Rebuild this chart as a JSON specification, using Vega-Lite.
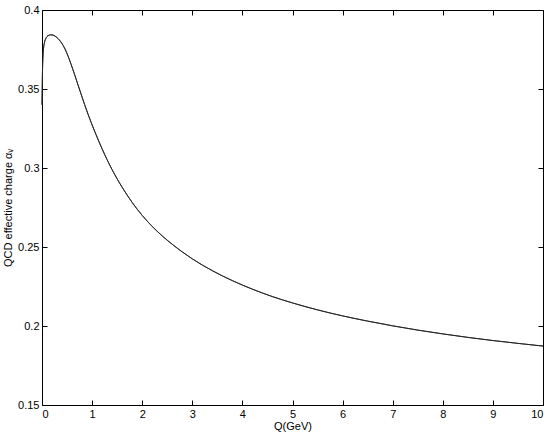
{
  "$schema": "https://vega.github.io/schema/vega-lite/v6.json",
  "autosize": {"type": "none"},
  "padding": {"left": 42, "top": 10, "right": 11, "bottom": 30},
  "width": 501,
  "height": 395,
  "background": "white",
  "config": {
    "view": {"stroke": "black", "strokeWidth": 1},
    "axis": {
      "domain": false,
      "grid": false,
      "tickColor": "black",
      "tickSize": -5,
      "labelFont": "Liberation Sans",
      "labelFontSize": 11,
      "labelColor": "black",
      "titleFont": "Liberation Sans",
      "titleFontSize": 11,
      "titleFontWeight": "normal",
      "titleColor": "black"
    }
  },
  "data": {
    "values": [
      {"Q": 0, "alpha": 0.340},
      {"Q": 0.01, "alpha": 0.362},
      {"Q": 0.02, "alpha": 0.371},
      {"Q": 0.03, "alpha": 0.3755},
      {"Q": 0.05, "alpha": 0.3795},
      {"Q": 0.08, "alpha": 0.3822},
      {"Q": 0.12, "alpha": 0.3837},
      {"Q": 0.17, "alpha": 0.3843},
      {"Q": 0.22, "alpha": 0.3841},
      {"Q": 0.3, "alpha": 0.3825},
      {"Q": 0.39, "alpha": 0.3792},
      {"Q": 0.46, "alpha": 0.3753},
      {"Q": 0.52, "alpha": 0.3708},
      {"Q": 0.58, "alpha": 0.3657},
      {"Q": 0.65, "alpha": 0.3592},
      {"Q": 0.72, "alpha": 0.3525},
      {"Q": 0.786, "alpha": 0.3462},
      {"Q": 0.85, "alpha": 0.3402},
      {"Q": 0.918, "alpha": 0.3341},
      {"Q": 0.98, "alpha": 0.3289},
      {"Q": 1.05, "alpha": 0.3233},
      {"Q": 1.1, "alpha": 0.3195},
      {"Q": 1.2, "alpha": 0.3121},
      {"Q": 1.3, "alpha": 0.3052},
      {"Q": 1.4, "alpha": 0.2989},
      {"Q": 1.5, "alpha": 0.2931},
      {"Q": 1.6, "alpha": 0.2878},
      {"Q": 1.8, "alpha": 0.2782},
      {"Q": 2.0, "alpha": 0.2700},
      {"Q": 2.2, "alpha": 0.2630},
      {"Q": 2.4, "alpha": 0.2570},
      {"Q": 2.6, "alpha": 0.2517},
      {"Q": 2.8, "alpha": 0.2469},
      {"Q": 3.0, "alpha": 0.2425},
      {"Q": 3.4, "alpha": 0.2350},
      {"Q": 3.8, "alpha": 0.2287},
      {"Q": 4.2, "alpha": 0.2233},
      {"Q": 4.6, "alpha": 0.2186},
      {"Q": 5.0, "alpha": 0.2146},
      {"Q": 5.5, "alpha": 0.2102},
      {"Q": 6.0, "alpha": 0.2064},
      {"Q": 6.5, "alpha": 0.2031},
      {"Q": 7.0, "alpha": 0.2001},
      {"Q": 7.5, "alpha": 0.1974},
      {"Q": 8.0, "alpha": 0.1950},
      {"Q": 8.5, "alpha": 0.1928},
      {"Q": 9.0, "alpha": 0.1908},
      {"Q": 9.5, "alpha": 0.1890},
      {"Q": 10, "alpha": 0.1873}
    ]
  },
  "layer": [
    {
      "mark": {"type": "line", "color": "#222222", "strokeWidth": 0.9, "interpolate": "monotone"},
      "encoding": {
        "x": {
          "field": "Q", "type": "quantitative",
          "scale": {"domain": [0, 10], "nice": false},
          "axis": {"values": [0,1,2,3,4,5,6,7,8,9,10], "format": "d", "title": "Q(GeV)", "labelPadding": 8, "titlePadding": 1}
        },
        "y": {
          "field": "alpha", "type": "quantitative",
          "scale": {"domain": [0.15, 0.4], "nice": false, "zero": false},
          "axis": {"values": [0.15, 0.2, 0.25, 0.3, 0.35, 0.4], "format": "~g", "title": "QCD effective charge αᵥ", "labelPadding": 8, "titlePadding": 4}
        }
      }
    },
    {
      "mark": {"type": "line", "color": "#222222", "strokeWidth": 0.9, "interpolate": "monotone"},
      "encoding": {
        "x": {
          "field": "Q", "type": "quantitative",
          "scale": {"domain": [0, 10], "nice": false},
          "axis": {"orient": "top", "values": [0,1,2,3,4,5,6,7,8,9,10], "labels": false, "title": null}
        },
        "y": {
          "field": "alpha", "type": "quantitative",
          "scale": {"domain": [0.15, 0.4], "nice": false, "zero": false},
          "axis": {"orient": "right", "values": [0.15, 0.2, 0.25, 0.3, 0.35, 0.4], "labels": false, "title": null}
        }
      }
    }
  ],
  "resolve": {"axis": {"x": "independent", "y": "independent"}}
}
